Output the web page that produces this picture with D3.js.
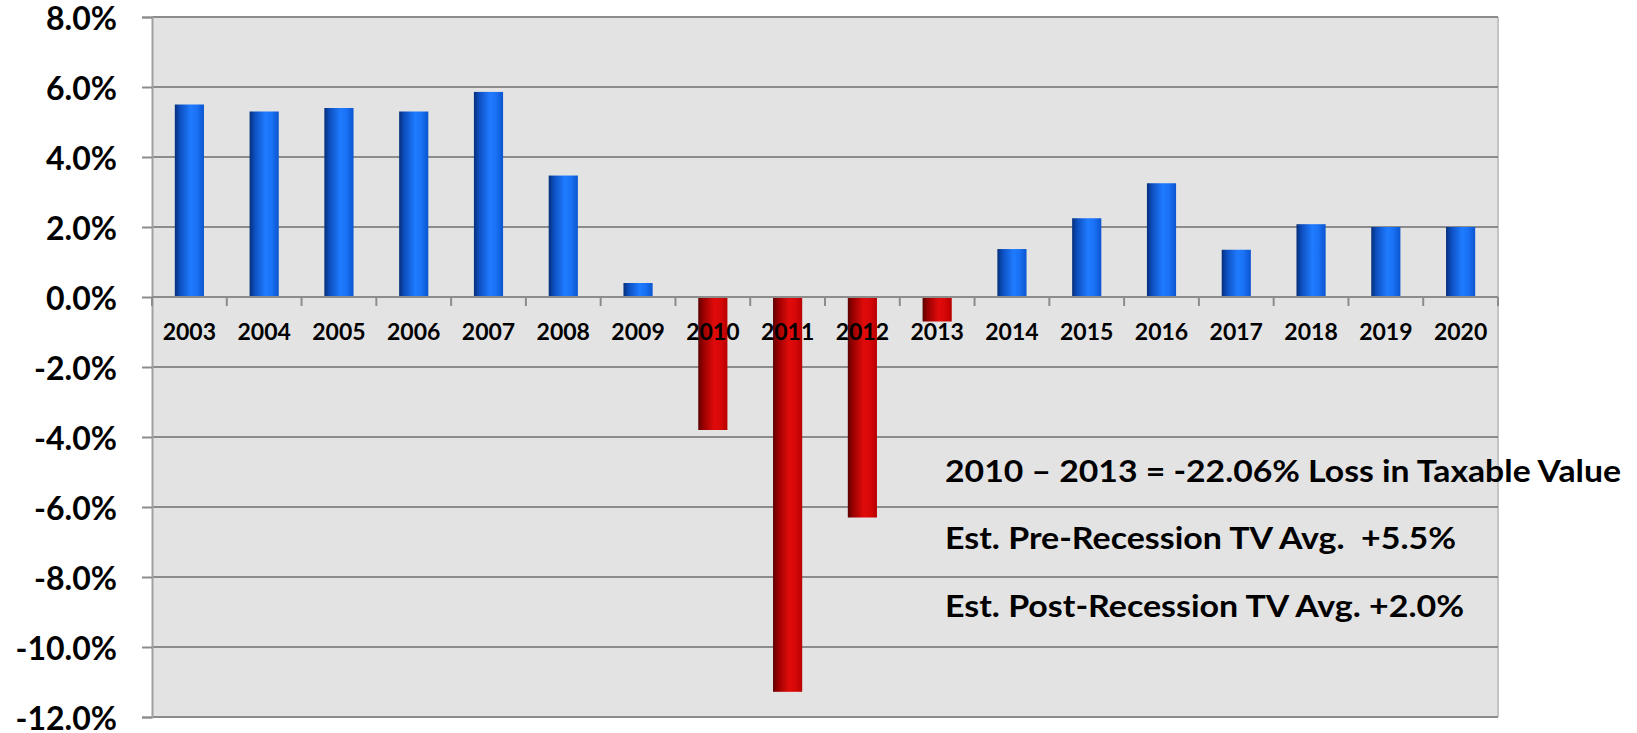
<!DOCTYPE html>
<html>
<head>
<meta charset="utf-8">
<script src="https://cdn.jsdelivr.net/npm/d3@7"></script>
<style>
  body { margin: 0; background: #fff; }
  text { font-family: Lato, "Open Sans", sans-serif; font-weight: bold; fill: #000; }
</style>
</head>
<body>
<div id="chart"></div>
<script>
// yearly change in taxable value (%)
var years = ["2003", "2004", "2005", "2006", "2007", "2008", "2009", "2010", "2011",
  "2012", "2013", "2014", "2015", "2016", "2017", "2018", "2019", "2020"];
var changes = [5.5, 5.3, 5.4, 5.3, 5.86, 3.47, 0.4, -3.8, -11.28,
  -6.3, -0.7, 1.37, 2.25, 3.25, 1.35, 2.08, 2.0, 2.0];
var yTicks = [8, 6, 4, 2, 0, -2, -4, -6, -8, -10, -12];
var notes = [
  "2010 \u2013 2013 = -22.06% Loss in Taxable Value",
  "Est. Pre-Recession TV Avg.  +5.5%",
  "Est. Post-Recession TV Avg. +2.0%"
];

var svgWidth = 1637;
var svgHeight = 733;

var margin = { top: 17, right: 139, bottom: 16, left: 152 };
var width = svgWidth - margin.left - margin.right;
var height = svgHeight - margin.top - margin.bottom;

var svg = d3.select("#chart")
  .append("svg")
  .attr("width", svgWidth)
  .attr("height", svgHeight);

// bar gradients (cylinder look)
var defs = svg.append("defs");
function addGradient(id, stops) {
  var g = defs.append("linearGradient").attr("id", id)
    .attr("x1", "0%").attr("x2", "100%").attr("y1", "0%").attr("y2", "0%");
  stops.forEach(s => g.append("stop").attr("offset", s[0]).attr("stop-color", s[1]));
}
addGradient("blueGrad", [["0%", "#062f7a"], ["18%", "#0d4fc0"], ["55%", "#1f7bff"], ["75%", "#1a72f5"], ["100%", "#0c55cf"]]);
addGradient("redGrad", [["0%", "#5e0000"], ["18%", "#9a0000"], ["55%", "#e00b0b"], ["75%", "#d80808"], ["100%", "#b80000"]]);

var chartGroup = svg.append("g")
  .attr("transform", `translate(${margin.left}, ${margin.top})`);

var xScale = d3.scaleBand()
  .domain(years)
  .range([0, width])
  .padding(0);

var yScale = d3.scaleLinear()
  .domain([-12, 8])
  .range([height, 0]);

// plot background
chartGroup.append("rect")
  .attr("width", width)
  .attr("height", height)
  .attr("fill", "#e3e3e3");

// right border
chartGroup.append("line")
  .attr("x1", width).attr("x2", width)
  .attr("y1", 0).attr("y2", height)
  .attr("stroke", "#c4c4c4").attr("stroke-width", 2);

// gridlines
chartGroup.selectAll(".grid")
  .data(yTicks)
  .enter()
  .append("line")
  .attr("x1", 0).attr("x2", width)
  .attr("y1", d => yScale(d)).attr("y2", d => yScale(d))
  .attr("stroke", "#8c8c8c")
  .attr("stroke-width", 2);

// left axis (plain hyphen for negatives, like the original)
var leftAxis = d3.axisLeft(yScale)
  .tickValues(yTicks)
  .tickSize(10)
  .tickPadding(25)
  .tickFormat(d => (d < 0 ? "-" : "") + Math.abs(d).toFixed(1) + "%");

var yAxisG = chartGroup.append("g").call(leftAxis);
yAxisG.select(".domain").attr("stroke", "#a0a0a0").attr("stroke-width", 2);
yAxisG.selectAll(".tick line").attr("stroke", "#8c8c8c").attr("stroke-width", 2);
yAxisG.selectAll(".tick text")
  .attr("font-size", 32)
  .attr("font-family", "Lato, sans-serif")
  .attr("font-weight", "bold")
  .attr("fill", "#000")
  .attr("dy", "0.38em");

// bars
var barW = xScale.bandwidth() * 0.39;
chartGroup.selectAll(".bar")
  .data(changes)
  .enter()
  .append("rect")
  .attr("class", "bar")
  .attr("x", (d, i) => xScale(years[i]) + (xScale.bandwidth() - barW) / 2)
  .attr("width", barW)
  .attr("y", d => yScale(Math.max(0, d)))
  .attr("height", d => Math.abs(yScale(d) - yScale(0)))
  .attr("fill", d => d < 0 ? "url(#redGrad)" : "url(#blueGrad)");

// zero axis with ticks between categories
var zeroG = chartGroup.append("g")
  .attr("transform", `translate(0, ${yScale(0)})`);
zeroG.append("line")
  .attr("x1", 0).attr("x2", width)
  .attr("stroke", "#8c8c8c").attr("stroke-width", 2);
zeroG.selectAll(".ztick")
  .data(years.concat(["end"]))
  .enter()
  .append("line")
  .attr("x1", (d, i) => i * xScale.step()).attr("x2", (d, i) => i * xScale.step())
  .attr("y1", 0).attr("y2", 9)
  .attr("stroke", "#8c8c8c").attr("stroke-width", 2);

// year labels
zeroG.selectAll(".year")
  .data(years)
  .enter()
  .append("text")
  .attr("x", d => xScale(d) + xScale.bandwidth() / 2)
  .attr("y", 43)
  .attr("text-anchor", "middle")
  .attr("font-size", 23)
  .text(d => d);

// notes
var noteY = [482, 549, 617];
var noteW = [676, 511, 519];
svg.selectAll(".note")
  .data(notes)
  .enter()
  .append("text")
  .attr("x", 945)
  .attr("y", (d, i) => noteY[i])
  .attr("font-size", 30)
  .attr("textLength", (d, i) => noteW[i])
  .attr("lengthAdjust", "spacingAndGlyphs")
  .style("white-space", "pre")
  .text(d => d);
</script>
</body>
</html>
